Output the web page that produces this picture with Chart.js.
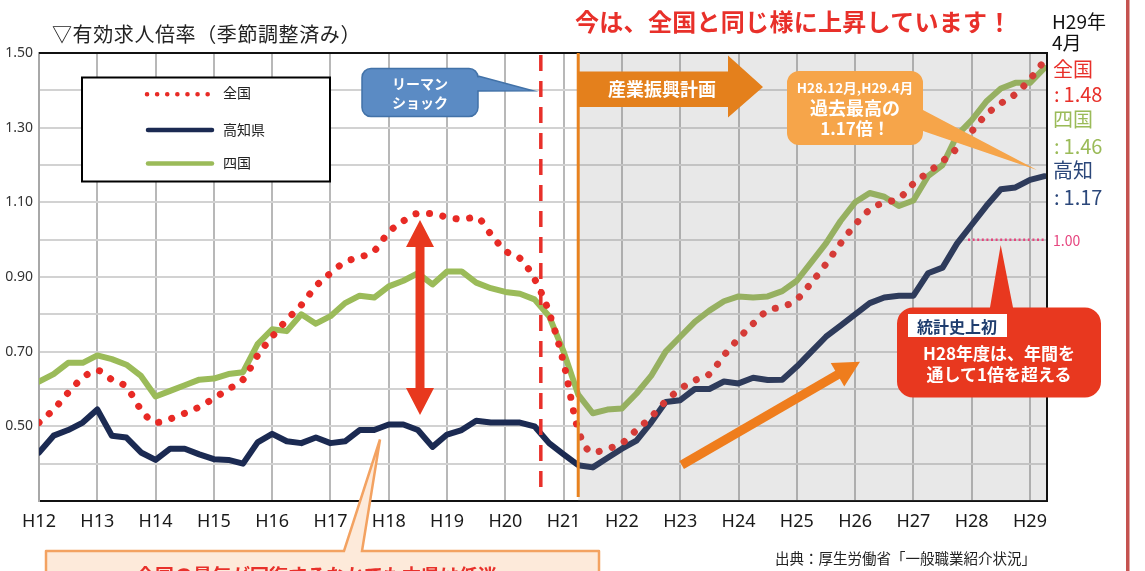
<!DOCTYPE html>
<html lang="ja">
<head>
<meta charset="utf-8">
<title>有効求人倍率</title>
<script src="https://cdn.jsdelivr.net/npm/chart.js@4.4.1/dist/chart.umd.min.js"></script>
<style>
  html, body { margin: 0; padding: 0; }
  body { width: 1145px; height: 571px; overflow: hidden; position: relative; background: #fff;
         font-family: "Noto Sans CJK JP", "Noto Sans", sans-serif; }
  #chart { position: absolute; left: 0; top: 0; }
  .t { position: absolute; white-space: nowrap; line-height: 1; }
  .c { transform: translateX(-50%); text-align: center; }
  .b { font-weight: bold; }
</style>
</head>
<body>
<canvas id="chart" width="1145" height="571"></canvas>

<!-- titles -->
<div class="t" style="left:52px;top:24px;font-size:20px;letter-spacing:0.6px;color:#222">▽有効求人倍率（季節調整済み）</div>
<div class="t b" style="left:575px;top:9px;font-size:24px;letter-spacing:0.3px;color:#e8302a">今は、全国と同じ様に上昇しています！</div>

<!-- right side values -->
<div class="t" style="left:1052px;top:11px;font-size:19px;color:#111">H29年</div>
<div class="t" style="left:1052px;top:32px;font-size:19px;color:#111">4月</div>
<div class="t" style="left:1053px;top:59px;font-size:20px;color:#e8302a">全国</div>
<div class="t" style="left:1054px;top:84px;font-size:20px;color:#e8302a">:&thinsp;1.48</div>
<div class="t" style="left:1053px;top:109px;font-size:20px;color:#9bbb59">四国</div>
<div class="t" style="left:1054px;top:136px;font-size:20px;color:#9bbb59">:&thinsp;1.46</div>
<div class="t" style="left:1053px;top:160px;font-size:20px;color:#2b477a">高知</div>
<div class="t" style="left:1054px;top:187px;font-size:20px;color:#2b477a">:&thinsp;1.17</div>
<div class="t" style="left:1053px;top:233px;font-size:14px;color:#e6457f">1.00</div>

<!-- legend -->
<div class="t" style="left:223px;top:85px;font-size:14px;color:#222">全国</div>
<div class="t" style="left:223px;top:122px;font-size:14px;color:#222">高知県</div>
<div class="t" style="left:223px;top:155px;font-size:14px;color:#222">四国</div>

<!-- callouts -->
<div class="t b c" style="left:420px;top:76px;font-size:14px;color:#fff">リーマン</div>
<div class="t b c" style="left:420px;top:95px;font-size:14px;color:#fff">ショック</div>
<div class="t b c" style="left:662px;top:79px;font-size:18px;color:#fff">産業振興計画</div>
<div class="t b c" style="left:855px;top:81px;font-size:13.5px;color:#fff">H28.12月,H29.4月</div>
<div class="t b c" style="left:855px;top:98px;font-size:18px;color:#fff">過去最高の</div>
<div class="t b c" style="left:855px;top:119px;font-size:17px;color:#fff">1.17倍！</div>
<div class="t b c" style="left:957px;top:318px;font-size:16px;color:#1f3d6e">統計史上初</div>
<div class="t b c" style="left:999px;top:344px;font-size:17px;color:#fff">H28年度は、年間を</div>
<div class="t b c" style="left:999px;top:365px;font-size:17px;color:#fff">通して1倍を超える</div>

<!-- bottom -->
<div class="t b" style="left:136px;top:565px;font-size:19px;color:#e8302a">全国の景気が回復するなかでも本県は低迷</div>
<div class="t" style="left:775px;top:551px;font-size:14.5px;color:#222">出典：厚生労働省「一般職業紹介状況」</div>

<script>
// months counted from H12 January, sampled quarterly
const months = [0, 3, 6, 9, 12, 15, 18, 21, 24, 27, 30, 33, 36, 39, 42, 45, 48, 51, 54, 57,
  60, 63, 66, 69, 72, 75, 78, 81, 84, 87, 90, 93, 96, 99, 102, 105, 108, 111, 114, 117,
  120, 123, 126, 129, 132, 135, 138, 141, 144, 147, 150, 153, 156, 159, 162, 165, 168, 171, 174, 177,
  180, 183, 186, 189, 192, 195, 198, 201, 204, 207];

const zenkoku = [0.51, 0.545, 0.59, 0.63, 0.65, 0.625, 0.605, 0.545, 0.51, 0.52, 0.535, 0.552, 0.575, 0.60, 0.625, 0.69, 0.74, 0.785, 0.825, 0.875,
  0.91, 0.94, 0.953, 0.97, 1.02, 1.05, 1.07, 1.07, 1.06, 1.055, 1.06, 1.015, 0.97, 0.95, 0.895, 0.805, 0.67, 0.49, 0.43, 0.44,
  0.455, 0.49, 0.525, 0.567, 0.60, 0.623, 0.64, 0.69, 0.735, 0.775, 0.81, 0.82, 0.84, 0.885, 0.935, 0.99, 1.04, 1.08, 1.10, 1.11,
  1.15, 1.18, 1.21, 1.245, 1.29, 1.335, 1.365, 1.39, 1.43, 1.48];

const kochi = [0.43, 0.475, 0.49, 0.51, 0.545, 0.475, 0.47, 0.43, 0.41, 0.44, 0.44, 0.425, 0.412, 0.41, 0.40, 0.457, 0.48, 0.46, 0.455, 0.47,
  0.455, 0.46, 0.49, 0.49, 0.505, 0.505, 0.49, 0.445, 0.478, 0.49, 0.515, 0.51, 0.51, 0.51, 0.50, 0.455, 0.425, 0.396, 0.39, 0.415,
  0.44, 0.462, 0.51, 0.565, 0.57, 0.60, 0.60, 0.62, 0.615, 0.63, 0.624, 0.625, 0.66, 0.70, 0.74, 0.77, 0.80, 0.83, 0.845, 0.85,
  0.85, 0.91, 0.925, 0.99, 1.04, 1.09, 1.135, 1.14, 1.16, 1.17];

const shikoku = [0.62, 0.64, 0.67, 0.67, 0.69, 0.68, 0.665, 0.635, 0.58, 0.595, 0.61, 0.625, 0.628, 0.64, 0.645, 0.72, 0.76, 0.755, 0.80, 0.775,
  0.795, 0.83, 0.85, 0.845, 0.875, 0.89, 0.91, 0.88, 0.915, 0.915, 0.885, 0.87, 0.86, 0.855, 0.84, 0.795, 0.70, 0.585, 0.535, 0.545,
  0.548, 0.588, 0.635, 0.70, 0.74, 0.78, 0.81, 0.835, 0.848, 0.845, 0.848, 0.862, 0.89, 0.94, 0.99, 1.05, 1.10, 1.125, 1.115, 1.09,
  1.105, 1.17, 1.20, 1.28, 1.32, 1.37, 1.405, 1.42, 1.42, 1.46];

const yearMonths = [0, 12, 24, 36, 48, 60, 72, 84, 96, 108, 120, 132, 144, 156, 168, 180, 192, 204];
const yearLabels = ['H12', 'H13', 'H14', 'H15', 'H16', 'H17', 'H18', 'H19', 'H20', 'H21',
  'H22', 'H23', 'H24', 'H25', 'H26', 'H27', 'H28', 'H29'];

const lehmanMonth = 103.3;   // リーマンショック
const planMonth = 111;       // 産業振興計画 start

const RED = '#e82a25', NAVY = '#1b2a52', GREEN = '#9bbb59';

const pts = arr => arr.map((v, i) => ({ x: months[i], y: v }));

function callout(ctx, x, y, w, h, r, ptr) {
  ctx.beginPath();
  ctx.moveTo(x + r, y);
  if (ptr && ptr.side === 'top') { ctx.lineTo(ptr.a, y); ctx.lineTo(ptr.tx, ptr.ty); ctx.lineTo(ptr.b, y); }
  ctx.lineTo(x + w - r, y);
  ctx.arcTo(x + w, y, x + w, y + r, r);
  if (ptr && ptr.side === 'right') { ctx.lineTo(x + w, ptr.a); ctx.lineTo(ptr.tx, ptr.ty); ctx.lineTo(x + w, ptr.b); }
  ctx.lineTo(x + w, y + h - r);
  ctx.arcTo(x + w, y + h, x + w - r, y + h, r);
  ctx.lineTo(x + r, y + h);
  ctx.arcTo(x, y + h, x, y + h - r, r);
  ctx.lineTo(x, y + r);
  ctx.arcTo(x, y, x + r, y, r);
  ctx.closePath();
}

const decor = {
  id: 'decor',
  afterDatasetsDraw(chart) {
    const { ctx, chartArea: a, scales: { x } } = chart;
    const sx = x.getPixelForValue(planMonth);
    ctx.save();
    ctx.fillStyle = 'rgba(133,133,133,0.19)';
    ctx.fillRect(sx, a.top, a.right - sx, a.bottom - a.top);
    ctx.restore();
  },
  afterDraw(chart) {
    const { ctx, chartArea: a, scales: { x, y } } = chart;
    ctx.save();

    // frame top + right
    ctx.strokeStyle = '#111'; ctx.lineWidth = 2;
    ctx.beginPath(); ctx.moveTo(a.left, a.top); ctx.lineTo(a.right, a.top); ctx.lineTo(a.right, a.bottom); ctx.stroke();

    // 1.00 line
    const y1 = y.getPixelForValue(1);
    ctx.strokeStyle = '#e6457f'; ctx.lineWidth = 2.5; ctx.setLineDash([2, 2.6]);
    ctx.beginPath(); ctx.moveTo(968, y1); ctx.lineTo(a.right - 2, y1); ctx.stroke();

    // lehman dashed line
    const lx = x.getPixelForValue(lehmanMonth);
    ctx.strokeStyle = '#e8302a'; ctx.lineWidth = 3.5; ctx.setLineDash([16, 10]);
    ctx.beginPath(); ctx.moveTo(lx, a.top + 2); ctx.lineTo(lx, 490); ctx.stroke();
    ctx.setLineDash([]);

    // plan line
    const px = x.getPixelForValue(planMonth);
    ctx.strokeStyle = '#e8821e'; ctx.lineWidth = 3;
    ctx.beginPath(); ctx.moveTo(px, a.top); ctx.lineTo(px, 497); ctx.stroke();

    // plan arrow
    ctx.fillStyle = '#e4801c';
    ctx.beginPath();
    ctx.moveTo(px, 71.5); ctx.lineTo(728, 71.5); ctx.lineTo(728, 55.5); ctx.lineTo(763, 87);
    ctx.lineTo(728, 117.5); ctx.lineTo(728, 107); ctx.lineTo(px, 107); ctx.closePath(); ctx.fill();

    // lehman callout
    callout(ctx, 362, 68.5, 116, 48, 9, { side: 'right', a: 76, b: 91, tx: 533, ty: 90.7 });
    ctx.fillStyle = '#5b8bc4'; ctx.fill();
    ctx.strokeStyle = '#4272a8'; ctx.lineWidth = 1.5; ctx.stroke();

    // record high callout
    callout(ctx, 787, 71, 136, 74, 12, { side: 'right', a: 110, b: 131, tx: 1037, ty: 170 });
    ctx.fillStyle = '#f6a54a'; ctx.fill();

    // gap arrow (double headed)
    ctx.fillStyle = '#e8381e';
    ctx.beginPath();
    ctx.moveTo(420, 220); ctx.lineTo(434, 247); ctx.lineTo(424.5, 247); ctx.lineTo(424.5, 388);
    ctx.lineTo(434, 388); ctx.lineTo(420, 415); ctx.lineTo(406, 388); ctx.lineTo(415.5, 388);
    ctx.lineTo(415.5, 247); ctx.lineTo(406, 247); ctx.closePath(); ctx.fill();

    // rising arrow
    const sx0 = 681.7, sy0 = 465, tx = 860, ty = 361.7;
    const len = Math.hypot(tx - sx0, ty - sy0), ux = (tx - sx0) / len, uy = (ty - sy0) / len;
    const bx = tx - ux * 26, by = ty - uy * 26;
    ctx.strokeStyle = '#ef7d1d'; ctx.fillStyle = '#ef7d1d'; ctx.lineWidth = 9; ctx.lineCap = 'butt';
    ctx.beginPath(); ctx.moveTo(sx0, sy0); ctx.lineTo(bx + ux * 2, by + uy * 2); ctx.stroke();
    ctx.beginPath(); ctx.moveTo(tx, ty);
    ctx.lineTo(bx - uy * 13.5, by + ux * 13.5); ctx.lineTo(bx + uy * 13.5, by - ux * 13.5); ctx.closePath(); ctx.fill();

    // first time callout
    callout(ctx, 897, 307.5, 204, 90, 16, { side: 'top', a: 990, b: 1013, tx: 1000.7, ty: 245 });
    ctx.fillStyle = '#e8381f'; ctx.fill();
    ctx.fillStyle = '#fff'; ctx.fillRect(908, 314, 99, 23);

    // legend box
    ctx.fillStyle = '#fff'; ctx.fillRect(82, 77.5, 248, 104);
    ctx.strokeStyle = '#000'; ctx.lineWidth = 2; ctx.strokeRect(82, 77.5, 248, 104);
    ctx.lineCap = 'round'; ctx.lineWidth = 4.5;
    ctx.strokeStyle = RED; ctx.setLineDash([0.1, 10]);
    ctx.beginPath(); ctx.moveTo(147, 94.3); ctx.lineTo(209, 94.3); ctx.stroke();
    ctx.setLineDash([]);
    ctx.strokeStyle = NAVY;
    ctx.beginPath(); ctx.moveTo(148, 130); ctx.lineTo(212, 130); ctx.stroke();
    ctx.strokeStyle = GREEN;
    ctx.beginPath(); ctx.moveTo(148, 163.5); ctx.lineTo(212, 163.5); ctx.stroke();

    // bottom note box
    callout(ctx, 46, 551, 553, 45, 0.01, { side: 'top', a: 344, b: 362, tx: 380, ty: 439.5 });
    ctx.fillStyle = '#fdeada'; ctx.fill();
    ctx.strokeStyle = '#f3a261'; ctx.lineWidth = 2.5; ctx.lineCap = 'butt'; ctx.stroke();

    // right edge bar
    ctx.fillStyle = '#c4524f'; ctx.fillRect(1126, 0, 3.5, 571);
    ctx.restore();
  }
};

new Chart(document.getElementById('chart'), {
  type: 'line',
  data: {
    datasets: [
      { label: '全国', data: pts(zenkoku), borderColor: RED, borderWidth: 7, borderDash: [0.1, 13.5],
        borderCapStyle: 'round', cubicInterpolationMode: 'monotone', pointRadius: 0 },
      { label: '高知県', data: pts(kochi), borderColor: NAVY, borderWidth: 6, borderJoinStyle: 'round',
        borderCapStyle: 'round', tension: 0, pointRadius: 0 },
      { label: '四国', data: pts(shikoku), borderColor: GREEN, borderWidth: 6, borderJoinStyle: 'round',
        borderCapStyle: 'round', tension: 0, pointRadius: 0 }
    ]
  },
  options: {
    responsive: false,
    animation: false,
    events: [],
    layout: { padding: { left: 0, right: 98, top: 53, bottom: 0 } },
    plugins: { legend: { display: false }, tooltip: { enabled: false } },
    scales: {
      x: {
        type: 'linear', min: 0, max: 207.5,
        afterBuildTicks: s => { s.ticks = yearMonths.map(v => ({ value: v })); },
        afterFit: s => { s.height = 70; },
        grid: { color: '#b8b8b8', lineWidth: 2, drawTicks: false },
        border: { color: '#111', width: 2 },
        ticks: {
          autoSkip: false, maxRotation: 0, padding: 10, color: '#1a1a1a',
          font: { family: 'Noto Sans', size: 18 },
          callback: v => yearLabels[yearMonths.indexOf(v)]
        }
      },
      y: {
        min: 0.3, max: 1.5,
        afterFit: s => { s.width = 39; },
        grid: { color: '#d2d2d2', lineWidth: 2, drawTicks: false },
        border: { color: '#a8a8a8', width: 2 },
        ticks: {
          stepSize: 0.1, padding: 6, color: '#333',
          font: { family: 'Noto Sans', size: 14 },
          callback: v => { const k = Math.round(v * 10); return (k % 2 === 1 && k >= 5) ? v.toFixed(2) : ''; }
        }
      }
    }
  },
  plugins: [decor]
});
</script>
</body>
</html>
